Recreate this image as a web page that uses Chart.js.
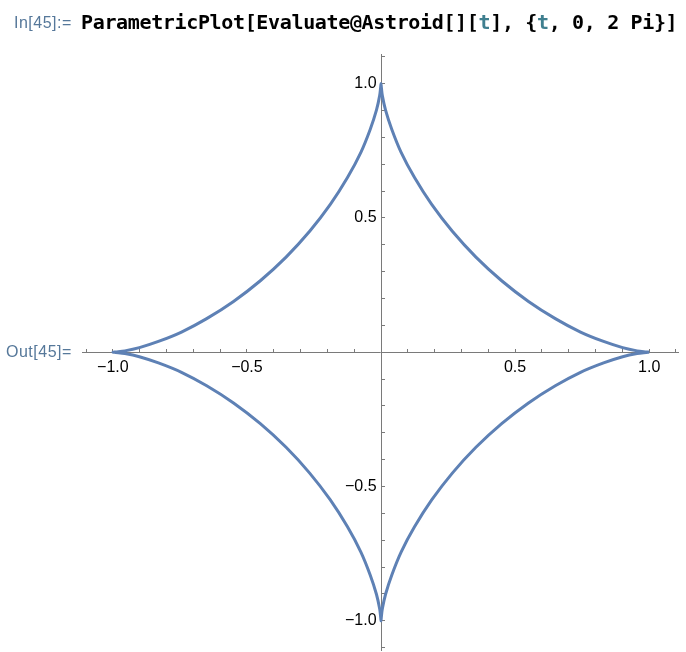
<!DOCTYPE html>
<html>
<head>
<meta charset="utf-8">
<script src="https://cdn.jsdelivr.net/npm/chart.js@4"></script>
<style>
  html, body { margin: 0; padding: 0; background: #fff; }
  #wrap { position: relative; width: 686px; height: 652px; overflow: hidden; }
  #plot { position: absolute; left: 0; top: 0; }
  .inlabel { position: absolute; left: 14px; top: 14px; font: 16px 'Liberation Sans', Arial, sans-serif; color: #56789a; letter-spacing: 0.5px; }
  .code { position: absolute; left: 81px; top: 10px; font: bold 20px 'DejaVu Sans Mono', monospace; color: #000; letter-spacing: -0.35px; }
  .code .v { color: #3f7f8f; }
  .outlabel { position: absolute; left: 6px; top: 343px; font: 16px 'Liberation Sans', Arial, sans-serif; color: #56789a; letter-spacing: 0.5px; }
</style>
</head>
<body>
<div id="wrap">
  <canvas id="plot" width="686" height="666"></canvas>
  <div class="inlabel">In[45]:=</div>
  <div class="code">ParametricPlot[Evaluate@Astroid[][<span class="v">t</span>], {<span class="v">t</span>, 0, 2&#8201;Pi}]</div>
  <div class="outlabel">Out[45]=</div>
</div>
<script>
// astroid points, going round from (1, 0)
const xs = [
  1, 0.989, 0.955, 0.901, 0.830, 0.744, 0.650, 0.550, 0.450, 0.354, 0.266, 0.189, 0.125, 0.075, 0.040, 0.017, 0.005, 0.001, 0,
  -0.001, -0.005, -0.017, -0.040, -0.075, -0.125, -0.189, -0.266, -0.354, -0.450, -0.550, -0.650, -0.744, -0.830, -0.901, -0.955, -0.989, -1,
  -0.989, -0.955, -0.901, -0.830, -0.744, -0.650, -0.550, -0.450, -0.354, -0.266, -0.189, -0.125, -0.075, -0.040, -0.017, -0.005, -0.001, 0,
  0.001, 0.005, 0.017, 0.040, 0.075, 0.125, 0.189, 0.266, 0.354, 0.450, 0.550, 0.650, 0.744, 0.830, 0.901, 0.955, 0.989, 1
];
const ys = [
  0, 0.001, 0.005, 0.017, 0.040, 0.075, 0.125, 0.189, 0.266, 0.354, 0.450, 0.550, 0.650, 0.744, 0.830, 0.901, 0.955, 0.989, 1,
  0.989, 0.955, 0.901, 0.830, 0.744, 0.650, 0.550, 0.450, 0.354, 0.266, 0.189, 0.125, 0.075, 0.040, 0.017, 0.005, 0.001, 0,
  -0.001, -0.005, -0.017, -0.040, -0.075, -0.125, -0.189, -0.266, -0.354, -0.450, -0.550, -0.650, -0.744, -0.830, -0.901, -0.955, -0.989, -1,
  -0.989, -0.955, -0.901, -0.830, -0.744, -0.650, -0.550, -0.450, -0.354, -0.266, -0.189, -0.125, -0.075, -0.040, -0.017, -0.005, -0.001, 0
];
const tickLabels = [-1.0, -0.5, 0.5, 1.0];

const pts = xs.map((x, i) => ({ x: x, y: ys[i] }));

function fmt(v) {
  for (let t of tickLabels) {
    if (Math.abs(v - t) < 1e-6) return (t < 0 ? '\u2212' : '') + Math.abs(t).toFixed(1);
  }
  return '';
}

const axisColor = '#7a7a7a';
const tickFont = { family: "'Liberation Sans', Arial, sans-serif", size: 16 };

new Chart(document.getElementById('plot').getContext('2d'), {
  type: 'scatter',
  data: {
    datasets: [{
      data: pts,
      showLine: true,
      borderColor: '#5e81b5',
      borderWidth: 3,
      pointRadius: 0,
      tension: 0.3,
      fill: false
    }]
  },
  options: {
    responsive: false,
    animation: false,
    layout: { padding: { left: 82, right: 6, top: 54, bottom: 2 } },
    plugins: { legend: { display: false }, tooltip: { enabled: false } },
    scales: {
      x: {
        type: 'linear',
        position: { y: 0 },
        min: -1.115, max: 1.108,
        border: { display: true, color: axisColor, width: 1 },
        grid: { drawOnChartArea: false, drawTicks: true, tickLength: -4, tickColor: axisColor },
        ticks: {
          stepSize: 0.1, autoSkip: false, includeBounds: false, maxRotation: 0,
          padding: 10, color: '#000', font: tickFont,
          callback: v => fmt(v)
        }
      },
      y: {
        type: 'linear',
        position: { x: 0 },
        min: -1.11, max: 1.11,
        border: { display: true, color: axisColor, width: 1 },
        grid: { drawOnChartArea: false, drawTicks: true, tickLength: -4, tickColor: axisColor },
        ticks: {
          stepSize: 0.1, autoSkip: false, includeBounds: false,
          padding: 6, color: '#000', font: tickFont,
          callback: v => { const s = fmt(v); return s ? s + ' ' : ''; }
        }
      }
    }
  }
});
</script>
</body>
</html>
